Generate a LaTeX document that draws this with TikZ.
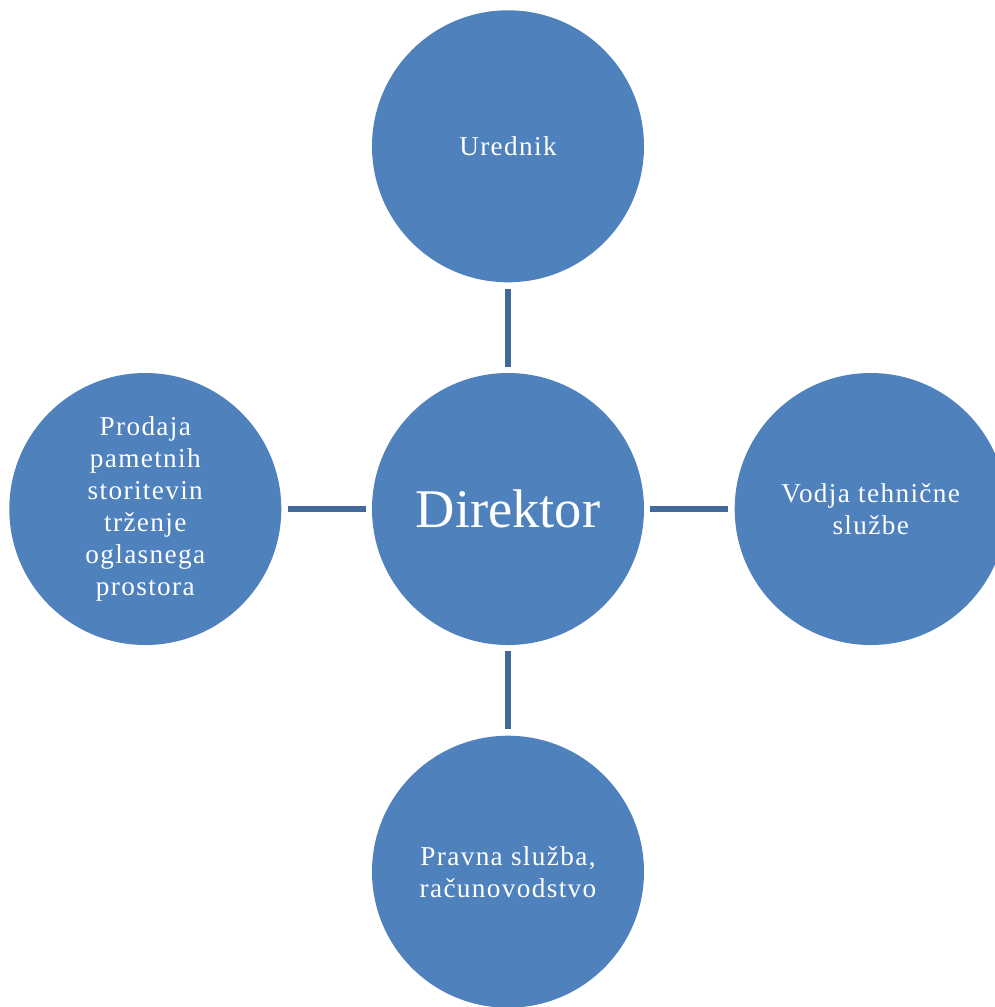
\documentclass[tikz,border=0pt]{standalone}
\usepackage{fontspec}
\setmainfont{Liberation Serif}
\usetikzlibrary{positioning}
\definecolor{nodeblue}{HTML}{4F81BD}
\definecolor{linkblue}{HTML}{41699A}

\begin{document}
\begin{tikzpicture}[
  node distance=1.8cm and 1.8cm,
  unit/.style={circle,fill=nodeblue,text=white,minimum size=5.44cm,inner sep=0pt,
    align=center,font=\fontsize{15.5}{18.2}\selectfont\addfontfeature{LetterSpace=5}},
  link/.style={linkblue,line width=3.5pt,shorten <=0.12cm,shorten >=0.12cm}
]
  \useasboundingbox (0,0) rectangle (19.9,-20.14);
  \node[unit,font=\fontsize{31}{36}\selectfont] (director) at (10.16,-10.18) {Direktor};
  \node[unit,above=of director] (editor) {Urednik};
  \node[unit,left=of director] (sales) {Prodaja\\pametnih\\storitevin\\trženje\\oglasnega\\prostora};
  \node[unit,right=of director] (tech) {Vodja tehnične\\službe};
  \node[unit,below=of director] (legal) {Pravna služba,\\računovodstvo};

  \draw[link] (director) -- (editor);
  \draw[link] (director) -- (sales);
  \draw[link] (director) -- (tech);
  \draw[link] (director) -- (legal);
\end{tikzpicture}
\end{document}
